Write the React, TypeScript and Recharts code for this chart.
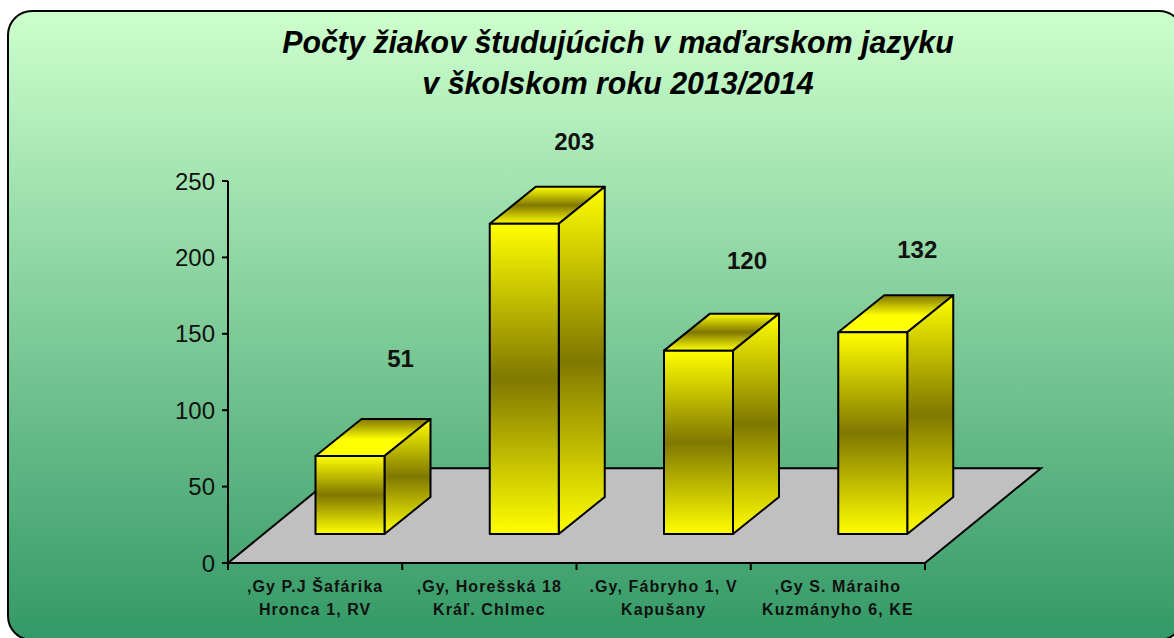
import { BarChart, Bar, XAxis, YAxis, ReferenceArea, LabelList } from 'recharts';

const categories = [
  ',Gy P.J Šafárika\nHronca 1, RV',
  ',Gy, Horešská 18\nKráľ. Chlmec',
  '.Gy, Fábryho 1, V\nKapušany',
  ',Gy S. Máraiho\nKuzmányho 6, KE',
];
const students = [51, 203, 120, 132];
const yTicks = [0, 50, 100, 150, 200, 250];
const titleLines = ['Počty žiakov študujúcich v maďarskom jazyku', 'v školskom roku 2013/2014'];

const data = categories.map((name, i) => ({ name, students: students[i] }));

const FONT = '"Liberation Sans", Arial, sans-serif';
// fake 3d: bars sit part way back on the floor
const SHIFT_X = 34.5;
const SHIFT_Y = 29;
const DEPTH_X = 46;
const DEPTH_Y = 37;
const FLOOR_X = 116;
const FLOOR_VALUE = 62;
// hand placed value labels, relative to the bar's centre/top
const labelNudge = [
  [85, -118],
  [84.5, -103],
  [83, -111],
  [79, -103],
];
// bars 1 and 4 have a top face that runs dark to yellow only
const topGradient = ['url(#goldTop)', 'url(#gold)', 'url(#gold)', 'url(#goldTop)'];

function Bar3D({ x, y, width, height, index }: any) {
  const fx = x + SHIFT_X;
  const fy = y - SHIFT_Y;
  const r = fx + width;
  const b = fy + height;
  const line = { stroke: '#000', strokeWidth: 2, strokeLinejoin: 'round' as const };
  return (
    <g>
      <polygon
        points={`${fx},${fy} ${fx + DEPTH_X},${fy - DEPTH_Y} ${r + DEPTH_X},${fy - DEPTH_Y} ${r},${fy}`}
        fill={topGradient[index]}
        {...line}
      />
      <polygon
        points={`${r},${fy} ${r + DEPTH_X},${fy - DEPTH_Y} ${r + DEPTH_X},${b - DEPTH_Y} ${r},${b}`}
        fill="url(#gold)"
        {...line}
      />
      <rect x={fx} y={fy} width={width} height={height} fill="url(#gold)" {...line} />
    </g>
  );
}

function Floor({ x, y, width, height }: any) {
  const b = y + height;
  return (
    <polygon
      points={`${x},${b} ${x + width},${b} ${x + width + FLOOR_X},${y} ${x + FLOOR_X},${y}`}
      fill="#c0c0c0"
      stroke="#000"
      strokeWidth={2}
    />
  );
}

function CategoryTick({ x, y, payload, index, width }: any) {
  const half = width / categories.length / 2;
  const [first, second] = String(payload.value).split('\n');
  const textStyle = { fontFamily: FONT, fontSize: 16, fontWeight: 700, letterSpacing: 1.1, fill: '#111' };
  return (
    <g>
      {index === 0 && <line x1={x - half} x2={x - half} y1={y} y2={y + 7} stroke="#000" strokeWidth={2} />}
      <line x1={x + half} x2={x + half} y1={y} y2={y + 7} stroke="#000" strokeWidth={2} />
      <text x={x} y={y + 29} textAnchor="middle" {...textStyle}>{first}</text>
      <text x={x} y={y + 52} textAnchor="middle" {...textStyle}>{second}</text>
    </g>
  );
}

function ValueLabel({ x, y, width, value, index }: any) {
  const [dx, dy] = labelNudge[index];
  return (
    <text
      x={x + width / 2 + dx}
      y={y + dy}
      textAnchor="middle"
      fontFamily={FONT}
      fontSize={24}
      fontWeight={700}
      fill="#111"
    >
      {value}
    </text>
  );
}

export default function App() {
  return (
    <div style={{ position: 'absolute', left: 0, top: 0, width: 1174, height: 638, overflow: 'hidden', background: '#fff' }}>
      <div
        style={{
          position: 'absolute',
          left: 7,
          top: 10,
          width: 1177,
          height: 631,
          boxSizing: 'border-box',
          border: '2px solid #000',
          borderRadius: 25,
          background: 'linear-gradient(180deg, #ccffcc 0%, #339966 100%)',
        }}
      />
      <div
        style={{
          position: 'absolute',
          left: 0,
          top: 22,
          width: 1236,
          textAlign: 'center',
          fontFamily: FONT,
          fontSize: 32,
          lineHeight: '41px',
          fontWeight: 700,
          fontStyle: 'italic',
          color: '#000',
          transform: 'scaleX(0.948)',
        }}
      >
        {titleLines.map((t) => (
          <div key={t}>{t}</div>
        ))}
      </div>
      <div style={{ position: 'absolute', left: 0, top: 0 }}>
        <BarChart
          width={1174}
          height={638}
          data={data}
          margin={{ top: 181, right: 249, bottom: 0, left: 0 }}
          barSize={69}
        >
          <defs>
            <linearGradient id="gold" x1="0" y1="0" x2="0" y2="1">
              <stop offset="0%" stopColor="#ffff00" />
              <stop offset="50%" stopColor="#807800" />
              <stop offset="100%" stopColor="#ffff00" />
            </linearGradient>
            <linearGradient id="goldTop" x1="0" y1="0" x2="0" y2="1">
              <stop offset="0%" stopColor="#807800" />
              <stop offset="55%" stopColor="#ffff00" />
              <stop offset="100%" stopColor="#ffff00" />
            </linearGradient>
          </defs>
          <ReferenceArea y1={0} y2={FLOOR_VALUE} shape={<Floor />} ifOverflow="visible" />
          <XAxis
            dataKey="name"
            interval={0}
            height={75}
            tickSize={0}
            tickMargin={0}
            tickLine={false}
            axisLine={{ stroke: '#000', strokeWidth: 2 }}
            tick={<CategoryTick />}
          />
          <YAxis
            width={228}
            domain={[0, 250]}
            ticks={yTicks}
            tickSize={6}
            tickMargin={7}
            axisLine={{ stroke: '#000', strokeWidth: 2 }}
            tickLine={{ stroke: '#000', strokeWidth: 2 }}
            tick={{ fill: '#111', fontSize: 24, fontFamily: FONT }}
          />
          <Bar dataKey="students" shape={<Bar3D />} isAnimationActive={false}>
            <LabelList dataKey="students" content={<ValueLabel />} />
          </Bar>
        </BarChart>
      </div>
    </div>
  );
}
